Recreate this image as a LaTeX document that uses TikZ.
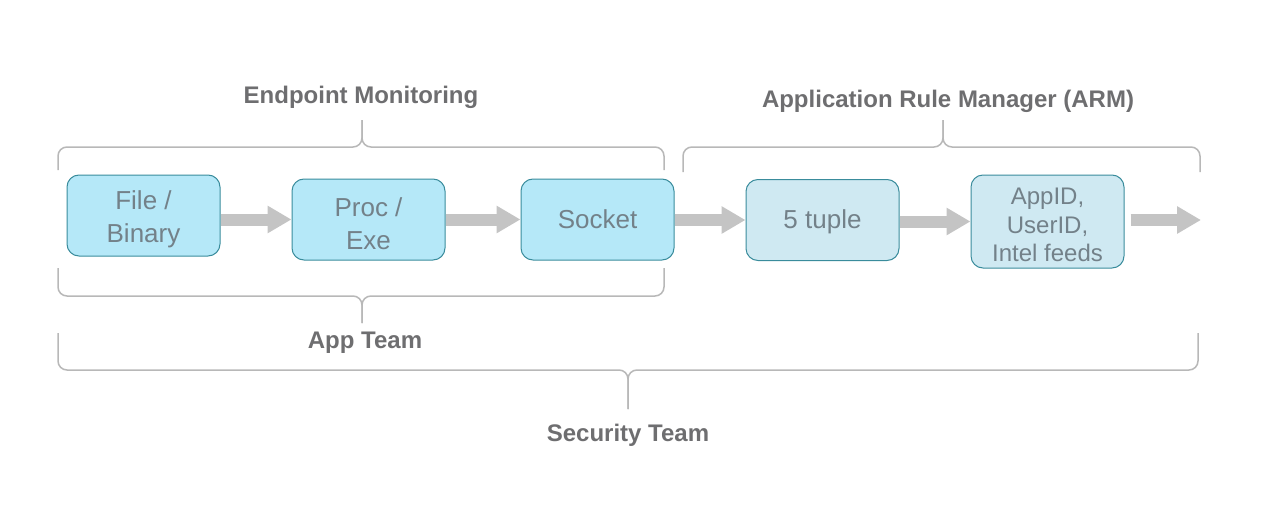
\documentclass[tikz,border=0pt]{standalone}
\usepackage{fontspec}
\setmainfont{Liberation Sans}
\usetikzlibrary{arrows.meta}
\definecolor{boxA}{HTML}{B5E8F8}
\definecolor{boxB}{HTML}{CFE9F2}
\definecolor{boxLine}{HTML}{3A8C9C}
\definecolor{boxText}{HTML}{738189}
\definecolor{lblText}{HTML}{6E6E70}
\definecolor{arrowGray}{HTML}{C4C4C4}
\definecolor{braceGray}{HTML}{B8B8B8}
\newcommand\toplift[1]{\rule{0pt}{#1}}
\tikzset{
  stepbox/.style={draw=boxLine, line width=1pt, fill=boxA, rounded corners=12pt,
    minimum width=153pt, minimum height=81pt, align=center, text=boxText,
    font=\fontsize{26}{33}\selectfont, inner sep=0pt},
  armbox/.style={stepbox, fill=boxB},
  flow/.style={draw=arrowGray, line width=12pt, -{Triangle[length=24pt,width=26pt]}},
  bracepath/.style={draw=braceGray, line width=1.5pt, rounded corners=9pt},
  grouplbl/.style={text=lblText, font=\bfseries\fontsize{24}{28}\selectfont, inner sep=0pt}
}
\begin{document}
\begin{tikzpicture}[x=1pt,y=-1pt]
\useasboundingbox (0,0) rectangle (1270,514);
% boxes
\node[stepbox] (fb) at (143.5,215.5) {\toplift{27pt}File /\\Binary};
\node[stepbox] (pe) at (368.5,219.5) {\toplift{27pt}Proc /\\Exe};
\node[stepbox] (so) at (597.5,219.5) {Socket};
\node[armbox] (tu) at (822.5,220) {\toplift{22pt}5 tuple};
\node[armbox, minimum height=93pt, font=\fontsize{24}{28.5}\selectfont] (ai) at (1047.5,221.5) {\toplift{24pt}AppID,\\UserID,\\Intel feeds};
\coordinate (out) at (1201,220);
% arrows
\draw[flow] (fb.east |- pe.west) -- (pe.west);
\draw[flow] (pe.east |- so.west) -- (so.west);
\draw[flow] (so.east |- tu.west) -- (tu.west);
\draw[flow] (tu.east |- ai.west) -- (ai.west);
\draw[flow, shorten <=6pt] (ai.east |- out) -- (out);
% braces
\draw[bracepath] (58,170) -- (58,147) -- (362,147) -- (362,120);
\draw[bracepath] (664,170) -- (664,147) -- (362,147) -- (362,120);
\draw[bracepath] (683,172) -- (683,147) -- (943,147) -- (943,120);
\draw[bracepath] (1200,172) -- (1200,147) -- (943,147) -- (943,120);
\draw[bracepath] (58,268) -- (58,296) -- (362,296) -- (362,323);
\draw[bracepath] (664,268) -- (664,296) -- (362,296) -- (362,323);
\draw[bracepath] (58,333) -- (58,370) -- (628,370) -- (628,409);
\draw[bracepath] (1198,333) -- (1198,370) -- (628,370) -- (628,409);
% labels
\node[grouplbl] (em) at (361,97) {Endpoint Monitoring};
\node[grouplbl] (arm) at (948,101) {Application Rule Manager (ARM)};
\node[grouplbl] (app) at (365,343) {App Team};
\node[grouplbl] (sec) at (628,435) {Security Team};
\end{tikzpicture}
\end{document}
